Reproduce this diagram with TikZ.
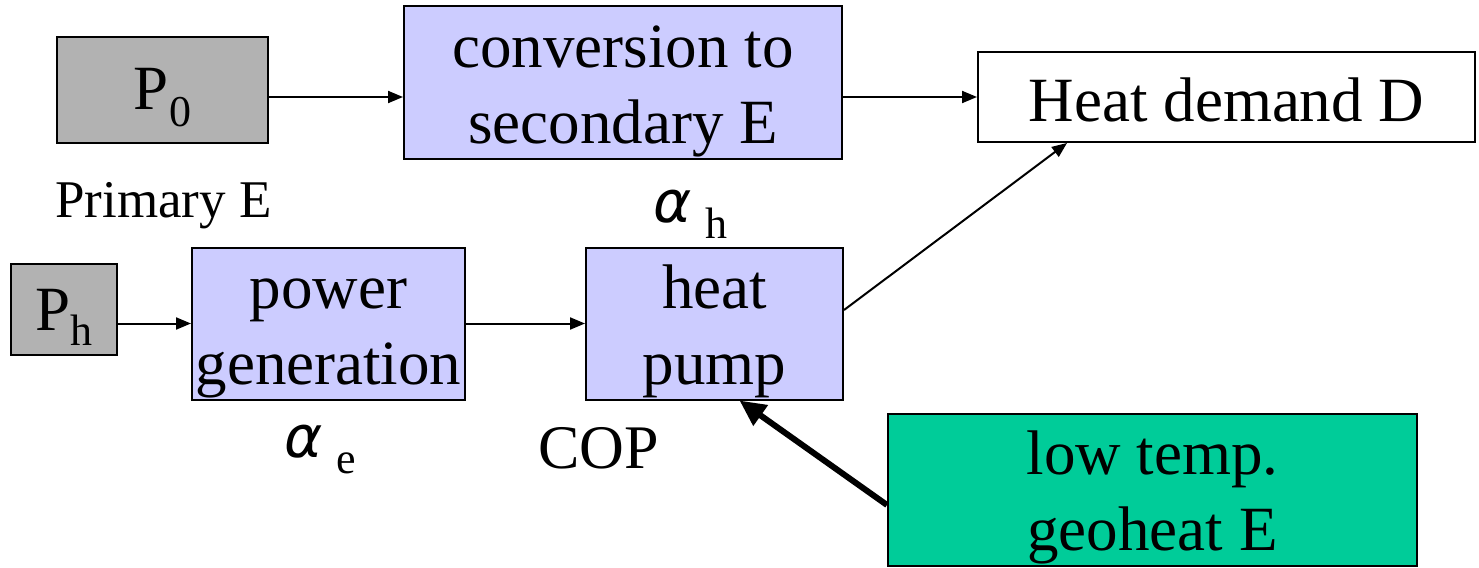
\documentclass[tikz,border=0pt]{standalone}
\usepackage{fontspec}
\setmainfont{Liberation Serif}
\newfontfamily\grkfont{DejaVu Sans}
\usetikzlibrary{arrows.meta}
\definecolor{boxgray}{HTML}{B2B2B2}
\definecolor{lav}{HTML}{CCCCFF}
\definecolor{geogreen}{HTML}{00CC99}
\newcommand{\lowerby}[2]{\raisebox{-#1}[\height][\depth]{#2}}
\newcommand{\bxtext}[2]{\lowerby{#1}{\begin{tabular}{@{}c@{}}#2\end{tabular}}}
\begin{document}
\begin{tikzpicture}[x=1pt,y=-1pt,
  box/.style={draw=black, line width=2pt, inner sep=0pt,
    font=\fontsize{63}{76}\selectfont},
  lbl/.style={inner sep=0pt, anchor=base west},
  arr/.style={line width=2pt, -{Triangle[length=15pt,width=12pt]}},
  thickarr/.style={line width=6pt, -{Triangle[length=26pt,width=24pt]}}]
\useasboundingbox (0,0) rectangle (1479,567);
\node[box, fill=boxgray, minimum width=211pt, minimum height=106pt] (P0) at (162.5,90)
  {\lowerby{8pt}{P\raisebox{-17pt}{\fontsize{44}{44}\selectfont 0}}};
\node[box, fill=lav, minimum width=438pt, minimum height=151pt] (conv) at (623,82.5)
  {\bxtext{8pt}{conversion to\\secondary E}};
\node[box, fill=white, minimum width=497pt, minimum height=90pt] (hd) at (1226.5,97)
  {\lowerby{3pt}{Heat demand D}};
\node[box, fill=boxgray, minimum width=106pt, minimum height=91pt] (Ph) at (64,309.5)
  {\lowerby{8pt}{P\raisebox{-15pt}{\fontsize{44}{44}\selectfont h}}};
\node[box, fill=lav, minimum width=273pt, minimum height=151pt] (pg) at (328.5,323.5)
  {\bxtext{8pt}{power\\generation}};
\node[box, fill=lav, minimum width=257pt, minimum height=151pt] (hp) at (714.5,323.5)
  {\bxtext{8pt}{heat\\pump}};
\node[box, fill=geogreen, minimum width=529pt, minimum height=150pt] (geo) at (1152.5,490)
  {\bxtext{7pt}{low temp.\\geoheat E}};
\node[lbl, font=\fontsize{53}{60}\selectfont] (prim) at (55,217) {Primary E};
\node[lbl, font=\fontsize{62}{70}\selectfont] (cop) at (538,468) {COP};
\node[lbl, font=\fontsize{58}{70}\grkfont\itshape] (ah) at (653,222) {α};
\node[lbl, font=\fontsize{44}{50}\selectfont] (ahs) at (705,238) {h};
\node[lbl, font=\fontsize{58}{70}\grkfont\itshape] (ae) at (284,457) {α};
\node[lbl, font=\fontsize{44}{50}\selectfont] (aes) at (336,473) {e};
\draw[arr] (P0.east |- 0,97) -- (conv.west |- 0,97);
\draw[arr] (conv.east |- 0,97) -- (hd.west);
\draw[arr] (Ph.east |- pg.west) -- (pg.west);
\draw[arr] (pg.east) -- (hp.west);
\draw[arr] (hp.east |- 0,310) -- ([xshift=90pt]hd.south west);
\draw[thickarr] (geo.west |- 0,505) -- ([xshift=25pt]hp.south);
\end{tikzpicture}
\end{document}
